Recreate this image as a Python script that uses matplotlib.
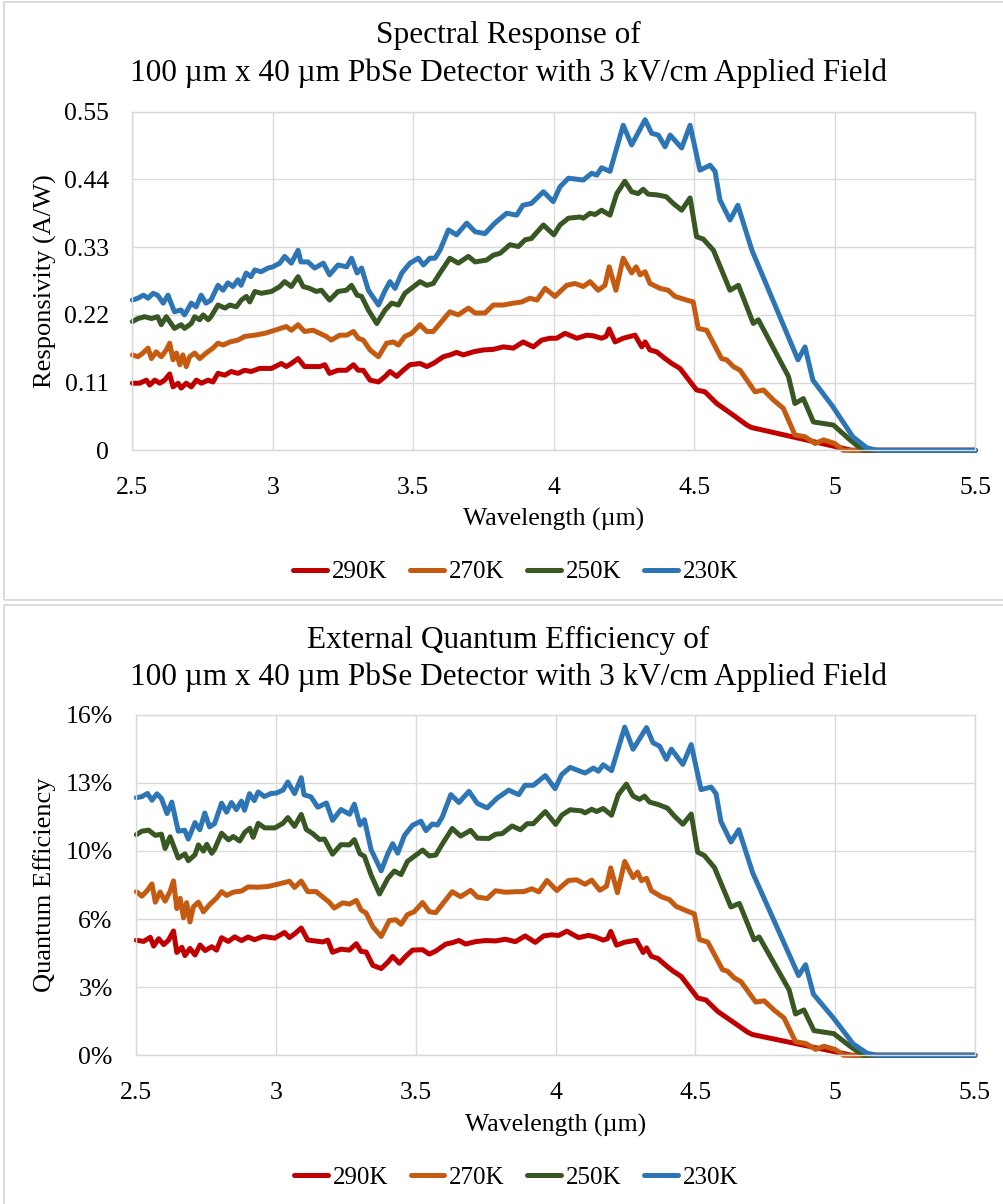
import numpy as np
import matplotlib
matplotlib.use("Agg")
import matplotlib.pyplot as plt
from matplotlib.patches import Rectangle
from matplotlib.ticker import FuncFormatter

plt.rcParams['font.family'] = ['Liberation Serif', 'DejaVu Serif']

# ---- measured responsivity (A/W) vs wavelength (um), one pair of lists per temperature ----
wl_290 = [2.50, 2.526, 2.55, 2.562, 2.58, 2.598, 2.615, 2.633, 2.645, 2.663, 2.674, 2.692, 2.71, 2.728,
          2.746, 2.77, 2.787, 2.805, 2.829, 2.852, 2.876, 2.90, 2.923, 2.953, 2.995, 3.03, 3.048, 3.066,
          3.09, 3.113, 3.143, 3.167, 3.185, 3.202, 3.232, 3.262, 3.287, 3.304, 3.322, 3.346, 3.376, 3.40,
          3.417, 3.441, 3.464, 3.488, 3.524, 3.548, 3.571, 3.607, 3.631, 3.654, 3.678, 3.714, 3.749, 3.785,
          3.82, 3.856, 3.891, 3.927, 3.957, 3.986, 4.01, 4.04, 4.082, 4.117, 4.14, 4.17, 4.186, 4.197,
          4.218, 4.247, 4.289, 4.313, 4.325, 4.342, 4.366, 4.396, 4.42, 4.449, 4.508, 4.538, 4.58, 4.639,
          4.687, 4.704, 5.06, 5.5]
r_290 = [0.109, 0.109, 0.114, 0.106, 0.114, 0.109, 0.114, 0.124, 0.103, 0.109, 0.101, 0.109, 0.103, 0.114,
         0.109, 0.114, 0.111, 0.125, 0.122, 0.128, 0.125, 0.130, 0.128, 0.133, 0.133, 0.141, 0.136, 0.141,
         0.149, 0.136, 0.136, 0.136, 0.139, 0.125, 0.130, 0.130, 0.139, 0.130, 0.130, 0.114, 0.111, 0.120,
         0.128, 0.120, 0.130, 0.139, 0.141, 0.136, 0.141, 0.152, 0.155, 0.159, 0.155, 0.160, 0.163, 0.164,
         0.168, 0.166, 0.176, 0.168, 0.179, 0.182, 0.182, 0.190, 0.182, 0.187, 0.186, 0.182, 0.185, 0.197,
         0.176, 0.182, 0.187, 0.168, 0.176, 0.163, 0.160, 0.149, 0.141, 0.133, 0.098, 0.095, 0.076, 0.057,
         0.041, 0.037, 0.0, 0.0]

wl_270 = [2.50, 2.52, 2.538, 2.556, 2.568, 2.585, 2.603, 2.621, 2.633, 2.645, 2.657, 2.669, 2.68, 2.692,
          2.704, 2.722, 2.74, 2.763, 2.787, 2.805, 2.823, 2.847, 2.876, 2.90, 2.936, 2.971, 3.007, 3.048,
          3.066, 3.09, 3.113, 3.143, 3.167, 3.19, 3.208, 3.238, 3.263, 3.287, 3.304, 3.322, 3.346, 3.376,
          3.405, 3.429, 3.447, 3.47, 3.494, 3.524, 3.548, 3.571, 3.595, 3.63, 3.66, 3.696, 3.72, 3.755,
          3.785, 3.82, 3.856, 3.886, 3.915, 3.94, 3.969, 4.004, 4.046, 4.075, 4.105, 4.129, 4.158, 4.182,
          4.197, 4.221, 4.247, 4.277, 4.293, 4.307, 4.325, 4.342, 4.378, 4.407, 4.431, 4.473, 4.496, 4.514,
          4.544, 4.597, 4.615, 4.639, 4.663, 4.716, 4.746, 4.781, 4.817, 4.858, 4.894, 4.93, 4.96, 5.0,
          5.03, 5.5]
r_270 = [0.155, 0.152, 0.158, 0.166, 0.149, 0.160, 0.152, 0.163, 0.174, 0.147, 0.158, 0.139, 0.155, 0.136,
         0.152, 0.158, 0.149, 0.158, 0.166, 0.174, 0.171, 0.176, 0.179, 0.185, 0.187, 0.190, 0.195, 0.201,
         0.195, 0.204, 0.193, 0.195, 0.190, 0.185, 0.179, 0.187, 0.187, 0.193, 0.182, 0.179, 0.163, 0.152,
         0.174, 0.176, 0.171, 0.185, 0.190, 0.204, 0.193, 0.193, 0.206, 0.225, 0.220, 0.231, 0.223, 0.223,
         0.236, 0.236, 0.239, 0.241, 0.247, 0.244, 0.263, 0.250, 0.268, 0.271, 0.266, 0.274, 0.260, 0.268,
         0.298, 0.260, 0.312, 0.288, 0.298, 0.285, 0.290, 0.271, 0.263, 0.260, 0.250, 0.244, 0.241, 0.198,
         0.195, 0.149, 0.147, 0.136, 0.130, 0.095, 0.098, 0.082, 0.068, 0.025, 0.022, 0.011, 0.017, 0.011,
         0.0, 0.0]

wl_250 = [2.50, 2.52, 2.544, 2.568, 2.59, 2.603, 2.621, 2.65, 2.674, 2.686, 2.71, 2.722, 2.74, 2.752,
          2.77, 2.78, 2.805, 2.83, 2.847, 2.87, 2.888, 2.906, 2.918, 2.936, 2.959, 2.995, 3.025, 3.042,
          3.066, 3.09, 3.108, 3.131, 3.155, 3.173, 3.202, 3.232, 3.262, 3.28, 3.30, 3.316, 3.34, 3.37,
          3.40, 3.423, 3.447, 3.47, 3.524, 3.548, 3.571, 3.595, 3.63, 3.66, 3.696, 3.72, 3.761, 3.785,
          3.809, 3.844, 3.874, 3.898, 3.92, 3.963, 4.0, 4.022, 4.052, 4.093, 4.105, 4.129, 4.147, 4.17,
          4.20, 4.224, 4.253, 4.277, 4.30, 4.318, 4.336, 4.366, 4.40, 4.425, 4.455, 4.485, 4.508, 4.532,
          4.568, 4.627, 4.657, 4.71, 4.728, 4.835, 4.858, 4.888, 4.924, 4.995, 5.054, 5.10, 5.5]
r_250 = [0.209, 0.214, 0.217, 0.214, 0.217, 0.204, 0.217, 0.198, 0.204, 0.198, 0.206, 0.217, 0.212, 0.220,
         0.212, 0.217, 0.236, 0.231, 0.236, 0.233, 0.244, 0.250, 0.241, 0.258, 0.255, 0.258, 0.266, 0.274,
         0.266, 0.282, 0.266, 0.263, 0.258, 0.260, 0.244, 0.258, 0.260, 0.268, 0.252, 0.250, 0.228, 0.206,
         0.228, 0.239, 0.236, 0.255, 0.274, 0.268, 0.271, 0.288, 0.312, 0.304, 0.315, 0.306, 0.309, 0.317,
         0.320, 0.334, 0.331, 0.342, 0.344, 0.366, 0.350, 0.366, 0.377, 0.379, 0.377, 0.385, 0.383, 0.390,
         0.382, 0.417, 0.437, 0.420, 0.417, 0.424, 0.416, 0.415, 0.412, 0.401, 0.390, 0.410, 0.347, 0.343,
         0.325, 0.260, 0.268, 0.206, 0.212, 0.120, 0.076, 0.084, 0.046, 0.041, 0.017, 0.0, 0.0]

wl_230 = [2.50, 2.52, 2.54, 2.556, 2.574, 2.59, 2.61, 2.627, 2.65, 2.673, 2.686, 2.71, 2.727, 2.745,
          2.762, 2.78, 2.805, 2.823, 2.84, 2.858, 2.876, 2.887, 2.905, 2.922, 2.936, 2.958, 2.983, 3.0,
          3.025, 3.042, 3.066, 3.09, 3.10, 3.125, 3.149, 3.18, 3.202, 3.232, 3.263, 3.28, 3.30, 3.316,
          3.34, 3.376, 3.40, 3.417, 3.435, 3.459, 3.488, 3.518, 3.536, 3.559, 3.577, 3.595, 3.625, 3.654,
          3.69, 3.72, 3.755, 3.79, 3.832, 3.868, 3.89, 3.92, 3.963, 3.998, 4.022, 4.052, 4.105, 4.135,
          4.153, 4.17, 4.20, 4.247, 4.277, 4.325, 4.348, 4.372, 4.396, 4.414, 4.455, 4.485, 4.52, 4.556,
          4.574, 4.591, 4.627, 4.655, 4.705, 4.869, 4.894, 4.922, 4.993, 5.064, 5.114, 5.15, 5.5]
r_230 = [0.244, 0.247, 0.252, 0.247, 0.255, 0.252, 0.239, 0.252, 0.225, 0.228, 0.220, 0.239, 0.233, 0.252,
         0.239, 0.244, 0.268, 0.260, 0.272, 0.266, 0.277, 0.268, 0.288, 0.282, 0.293, 0.290, 0.296, 0.298,
         0.304, 0.315, 0.304, 0.325, 0.306, 0.306, 0.296, 0.304, 0.285, 0.301, 0.298, 0.312, 0.288, 0.296,
         0.260, 0.236, 0.260, 0.274, 0.263, 0.288, 0.304, 0.312, 0.301, 0.312, 0.312, 0.325, 0.358, 0.350,
         0.369, 0.355, 0.352, 0.369, 0.385, 0.382, 0.398, 0.401, 0.420, 0.404, 0.428, 0.442, 0.439, 0.450,
         0.447, 0.459, 0.453, 0.528, 0.496, 0.537, 0.515, 0.512, 0.493, 0.512, 0.491, 0.528, 0.455, 0.463,
         0.453, 0.407, 0.374, 0.398, 0.325, 0.147, 0.168, 0.114, 0.071, 0.022, 0.004, 0.0, 0.0]

labels = ['290K', '270K', '250K', '230K']
colors = ['#C00000', '#C55A11', '#385723', '#2E75B6']
series = [(wl_290, r_290), (wl_270, r_270), (wl_250, r_250), (wl_230, r_230)]

x_ticks = [2.5, 3.0, 3.5, 4.0, 4.5, 5.0, 5.5]
resp_ticks = [0, 0.11, 0.22, 0.33, 0.44, 0.55]
qe_ticks = [0, 0.032, 0.064, 0.096, 0.128, 0.16]

HC_OVER_E = 1.23984  # W*um/A ; QE = R * hc/(e*lambda)

GRID = '#D9D9D9'
W, H = 1004, 1204
LW = 3.6


def rect(x0, y0, x1, y1):
    # pixel box (from top-left) -> figure fraction [left, bottom, width, height]
    return [x0 / W, 1 - y1 / H, (x1 - x0) / W, (y1 - y0) / H]


def style_axes(ax, yticks, yfmt, ylabel, ylabel_x):
    ax.set_xlim(2.5, 5.5)
    ax.set_ylim(yticks[0], yticks[-1])
    ax.set_xticks(x_ticks)
    ax.set_yticks(yticks)
    ax.xaxis.set_major_formatter(FuncFormatter(lambda v, p: f"{v:g}"))
    ax.yaxis.set_major_formatter(FuncFormatter(yfmt))
    ax.grid(True, color=GRID, lw=1.0)
    ax.set_axisbelow(True)
    for s in ax.spines.values():
        s.set_color(GRID)
        s.set_linewidth(1.0)
    ax.tick_params(length=0, labelsize=18.5, colors='black')
    ax.tick_params(axis='x', pad=19)
    ax.tick_params(axis='y', pad=17)
    ax.set_xlabel('Wavelength (µm)', fontsize=18.5, va='center')
    ax.xaxis.set_label_coords(0.5, -0.205)
    ax.set_ylabel(ylabel, fontsize=19, va='center')
    ax.yaxis.set_label_coords(ylabel_x, 0.5)


fig = plt.figure(figsize=(W / 100, H / 100), dpi=100)

# chart-area borders
for (y0, y1) in [(2, 600), (605, 1210)]:
    fig.patches.append(Rectangle((4 / W, 1 - y1 / H), 1.1, (y1 - y0) / H,
                                 transform=fig.transFigure, fill=False,
                                 edgecolor=GRID, lw=1.3))

ax1 = fig.add_axes(rect(132.3, 111.7, 975.3, 450.3))
ax2 = fig.add_axes(rect(136.3, 714.7, 975.0, 1055.3))

for (wl, r), lab, c in zip(series, labels, colors):
    wl = np.asarray(wl)
    r = np.asarray(r)
    ax1.plot(wl, r, color=c, lw=LW, label=lab, clip_on=False,
             solid_joinstyle='round', solid_capstyle='round')
    ax2.plot(wl, r * HC_OVER_E / wl, color=c, lw=LW, label=lab, clip_on=False,
             solid_joinstyle='round', solid_capstyle='round')

style_axes(ax1, resp_ticks, lambda v, p: f"{v:g}", 'Responsivity (A/W)', -0.1036)
style_axes(ax2, qe_ticks, lambda v, p: f"{v * 100:.0f}%", 'Quantum Efficiency', -0.1089)

for ax, cx in [(ax1, 0.455), (ax2, 0.453)]:
    ax.legend(loc='center', bbox_to_anchor=(cx, -0.36), ncol=4, frameon=False,
              fontsize=18, handlelength=1.35, handletextpad=0.2, columnspacing=0.9,
              borderaxespad=0)

fig.text(0.506, 1 - 35 / H, 'Spectral Response of', ha='center', va='center', fontsize=22.5)
fig.text(0.506, 1 - 73 / H, '100 µm x 40 µm PbSe Detector with 3 kV/cm Applied Field',
         ha='center', va='center', fontsize=22.5)
fig.text(0.506, 1 - 640 / H, 'External Quantum Efficiency of', ha='center', va='center', fontsize=22.5)
fig.text(0.506, 1 - 677 / H, '100 µm x 40 µm PbSe Detector with 3 kV/cm Applied Field',
         ha='center', va='center', fontsize=22.5)

fig.savefig('out.png', dpi=100)
